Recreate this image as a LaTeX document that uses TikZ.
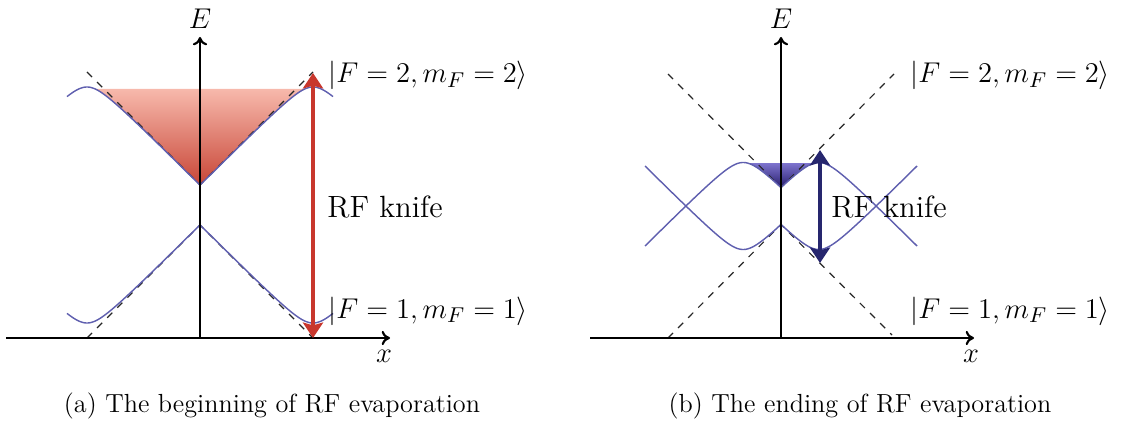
\documentclass[tikz,border=0pt]{standalone}
\usepackage{fontspec}
\usetikzlibrary{arrows.meta}
\definecolor{curveblue}{RGB}{95,95,175}
\definecolor{knifered}{RGB}{200,55,45}
\definecolor{knifenavy}{RGB}{38,38,110}
\definecolor{redtop}{RGB}{247,185,172}
\definecolor{redbot}{RGB}{200,70,55}
\definecolor{bluetop}{RGB}{125,115,205}
\definecolor{bluebot}{RGB}{40,30,110}
\begin{document}
\begin{tikzpicture}[x=0.42pt,y=-0.42pt,
  axis/.style={line width=0.9pt,-{To[length=3.5pt,width=6pt]}},
  bare/.style={dashed,line width=0.5pt,black!85},
  adiab/.style={line width=0.6pt,curveblue},
  knife/.style={line width=1.7pt,{Stealth[length=6.5pt,width=8.5pt,inset=1.2pt]}-{Stealth[length=6.5pt,width=8.5pt,inset=1.2pt]}},
  lbl/.style={anchor=base west,inner sep=0pt,font=\fontsize{12.9}{15}\selectfont},
  axlbl/.style={inner sep=0pt,font=\fontsize{12.9}{15}\selectfont},
  captext/.style={anchor=base,inner sep=0pt,font=\fontsize{11}{13}\selectfont}]
\useasboundingbox (0,0) rectangle (1138,425);

% ================= panel (a) =================
\shade[top color=redtop,bottom color=redbot]
  plot[domain=-105:105,samples=211] ({\x+200},{205-(134-sqrt((abs(\x)-113)^2+256))}) -- cycle;

\coordinate (aUL) at (87,72);  \coordinate (aUV) at (200,185); \coordinate (aUR) at (313,72);
\coordinate (aLL) at (87,338); \coordinate (aLV) at (200,225); \coordinate (aLR) at (313,338);
\draw[bare] (aUL) -- (aUV) -- (aUR);
\draw[bare] (aLL) -- (aLV) -- (aLR);

\draw[adiab] plot[domain=-133:133,samples=267] ({\x+200},{205-(134-sqrt((abs(\x)-113)^2+256))});
\draw[adiab] plot[domain=-133:133,samples=267] ({\x+200},{205+(134-sqrt((abs(\x)-113)^2+256))});

\coordinate (aO) at (200,338);
\coordinate (aXs) at (6,338);  \coordinate (aXe) at (390,338);
\coordinate (aYe) at (200,37);
\draw[axis] (aXs) -- (aXe);
\draw[axis] (aO) -- (aYe);
\node[axlbl] (aE) at (200,19) {$E$};
\node[axlbl] (ax) at (384,356) {$x$};

\coordinate (aKt) at (313,73); \coordinate (aKb) at (313,338);
\draw[knife,knifered] (aKb) -- (aKt);

\node[lbl] (aF2) at (328,83) {$|F=2,m_F=2\rangle$};
\node[lbl] (aRF) at (327,218) {RF knife};
\node[lbl] (aF1) at (328,318) {$|F=1,m_F=1\rangle$};
\node[captext] (capa) at (272,412) {(a) The beginning of RF evaporation};

% ================= panel (b) =================
\shade[top color=bluetop,bottom color=bluebot]
  plot[domain=-33:33,samples=67] ({\x+781},{206-(59.5-sqrt((abs(\x)-37.8)^2+256))}) -- cycle;

\coordinate (bUL) at (668,74);  \coordinate (bUV) at (781,187.5); \coordinate (bUR) at (894,74);
\coordinate (bLL) at (668,338); \coordinate (bLV) at (781,224.5); \coordinate (bLR) at (892,335);
\draw[bare] (bUL) -- (bUV) -- (bUR);
\draw[bare] (bLL) -- (bLV) -- (bLR);

\draw[adiab] plot[domain=-136:136,samples=273] ({\x+781},{206-(59.5-sqrt((abs(\x)-37.8)^2+256))});
\draw[adiab] plot[domain=-136:136,samples=273] ({\x+781},{206+(59.5-sqrt((abs(\x)-37.8)^2+256))});

\coordinate (bO) at (781,338);
\coordinate (bXs) at (590,338); \coordinate (bXe) at (974,338);
\coordinate (bYe) at (781,37);
\draw[axis] (bXs) -- (bXe);
\draw[axis] (bO) -- (bYe);
\node[axlbl] (bE) at (781,19) {$E$};
\node[axlbl] (bx) at (971,356) {$x$};

\coordinate (bKt) at (820,150); \coordinate (bKb) at (820,263);
\draw[knife,knifenavy] (bKb) -- (bKt);

\node[lbl] (bF2) at (910,83) {$|F=2,m_F=2\rangle$};
\node[lbl] (bRF) at (831,218) {RF knife};
\node[lbl] (bF1) at (910,318) {$|F=1,m_F=1\rangle$};
\node[captext] (capb) at (860,412) {(b) The ending of RF evaporation};
\end{tikzpicture}
\end{document}
